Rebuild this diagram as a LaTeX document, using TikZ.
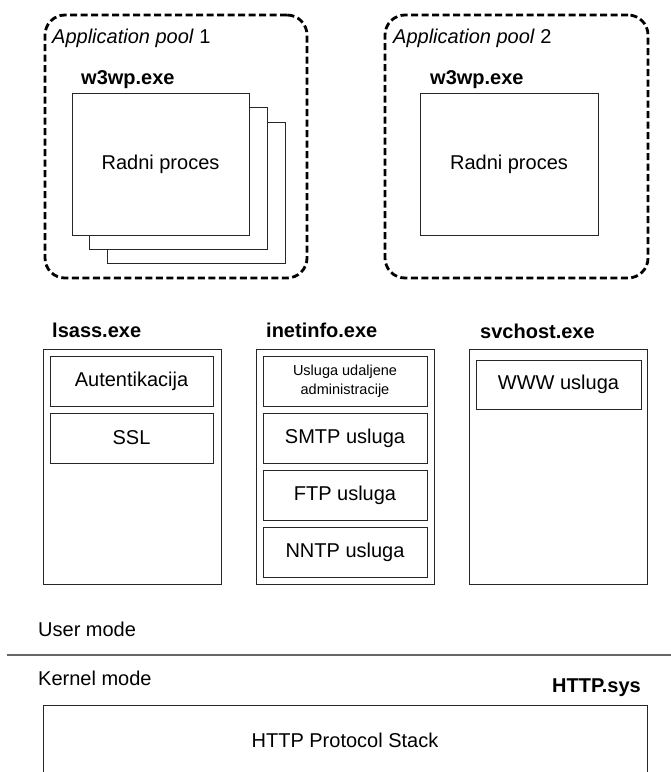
\documentclass[tikz,border=0pt]{standalone}
\usepackage{fontspec}
\setmainfont{Liberation Sans}
\begin{document}
\begin{tikzpicture}[x=1pt,y=1pt,
  txt/.style={font=\fontsize{20}{23}\selectfont, inner sep=0pt},
  btxt/.style={font=\fontsize{20}{23}\selectfont\bfseries, inner sep=0pt},
  pool/.style={draw=black, line width=2.8pt, dash pattern=on 7pt off 3.5pt, rounded corners=20pt, inner sep=0pt},
  procbox/.style={draw=black!85, line width=1pt, fill=white, inner sep=0pt, font=\fontsize{20}{23}\selectfont},
  svcbox/.style={draw=black!85, line width=1pt, fill=white, inner sep=0pt, minimum height=50pt, font=\fontsize{20}{23}\selectfont}
]
\clip (0,0) rectangle (671,-772);
\useasboundingbox (0,0) rectangle (671,-772);

% application pools
\node[pool, minimum width=262pt, minimum height=263pt] (pool1) at (176,-146.5) {};
\node[pool, minimum width=263pt, minimum height=263pt] (pool2) at (516.5,-146.5) {};
\node[txt, anchor=west] (pool1lbl) at (52,-38) {\textit{Application pool} 1};
\node[txt, anchor=west] (pool2lbl) at (393,-38) {\textit{Application pool} 2};
\node[btxt, anchor=west] (w3wp1) at (81,-80) {w3wp.exe};
\node[btxt, anchor=west] (w3wp2) at (430,-80) {w3wp.exe};

% worker processes
\node[procbox, minimum width=178pt, minimum height=141pt] (wp1c) at (196,-192.5) {};
\node[procbox, minimum width=178pt, minimum height=142pt] (wp1b) at (178,-178) {};
\node[procbox, minimum width=177pt, minimum height=142pt] (wp1a) at (160.5,-164) {Radni proces};
\node[procbox, minimum width=178pt, minimum height=142pt] (wp2) at (509,-164) {Radni proces};

% service hosts
\node[btxt, anchor=west] (lsasslbl) at (52,-330) {lsass.exe};
\node[btxt, anchor=west] (inetlbl) at (266,-330) {inetinfo.exe};
\node[btxt, anchor=west] (svclbl) at (480,-331) {svchost.exe};

\node[procbox, minimum width=178pt, minimum height=235pt] (lsass) at (132,-466.5) {};
\node[procbox, minimum width=178pt, minimum height=235pt] (inet) at (345,-466.5) {};
\node[procbox, minimum width=178pt, minimum height=235pt] (svc) at (558,-466.5) {};

\node[svcbox, minimum width=163pt] (auth) at (131.5,-381) {Autentikacija};
\node[svcbox, minimum width=163pt] (ssl) at (131.5,-438) {SSL};

\node[svcbox, minimum width=164pt, align=center, font=\fontsize{14.5}{18.5}\selectfont] (admin) at (345,-381) {Usluga udaljene\\administracije};
\node[svcbox, minimum width=164pt] (smtp) at (345,-438) {SMTP usluga};
\node[svcbox, minimum width=164pt] (ftp) at (345,-495) {FTP usluga};
\node[svcbox, minimum width=164pt] (nntp) at (345,-552) {NNTP usluga};

\node[svcbox, minimum width=165pt, minimum height=49pt] (www) at (558.5,-384.5) {WWW usluga};

% user / kernel mode
\node[txt, anchor=west] (user) at (38,-629) {User mode};
\coordinate (sepL) at (7,-655);
\coordinate (sepR) at (671,-655);
\draw[black!60, line width=1.5pt] (sepL) -- (sepR);
\node[txt, anchor=west] (kernel) at (38,-678) {Kernel mode};
\node[btxt, anchor=east] (httpsys) at (641,-688) {HTTP.sys};

\node[procbox, minimum width=604pt, minimum height=80pt, anchor=north west] (stack) at (43,-705) {};
\node[txt] (stacklbl) at (345,-740) {HTTP Protocol Stack};
\end{tikzpicture}
\end{document}
